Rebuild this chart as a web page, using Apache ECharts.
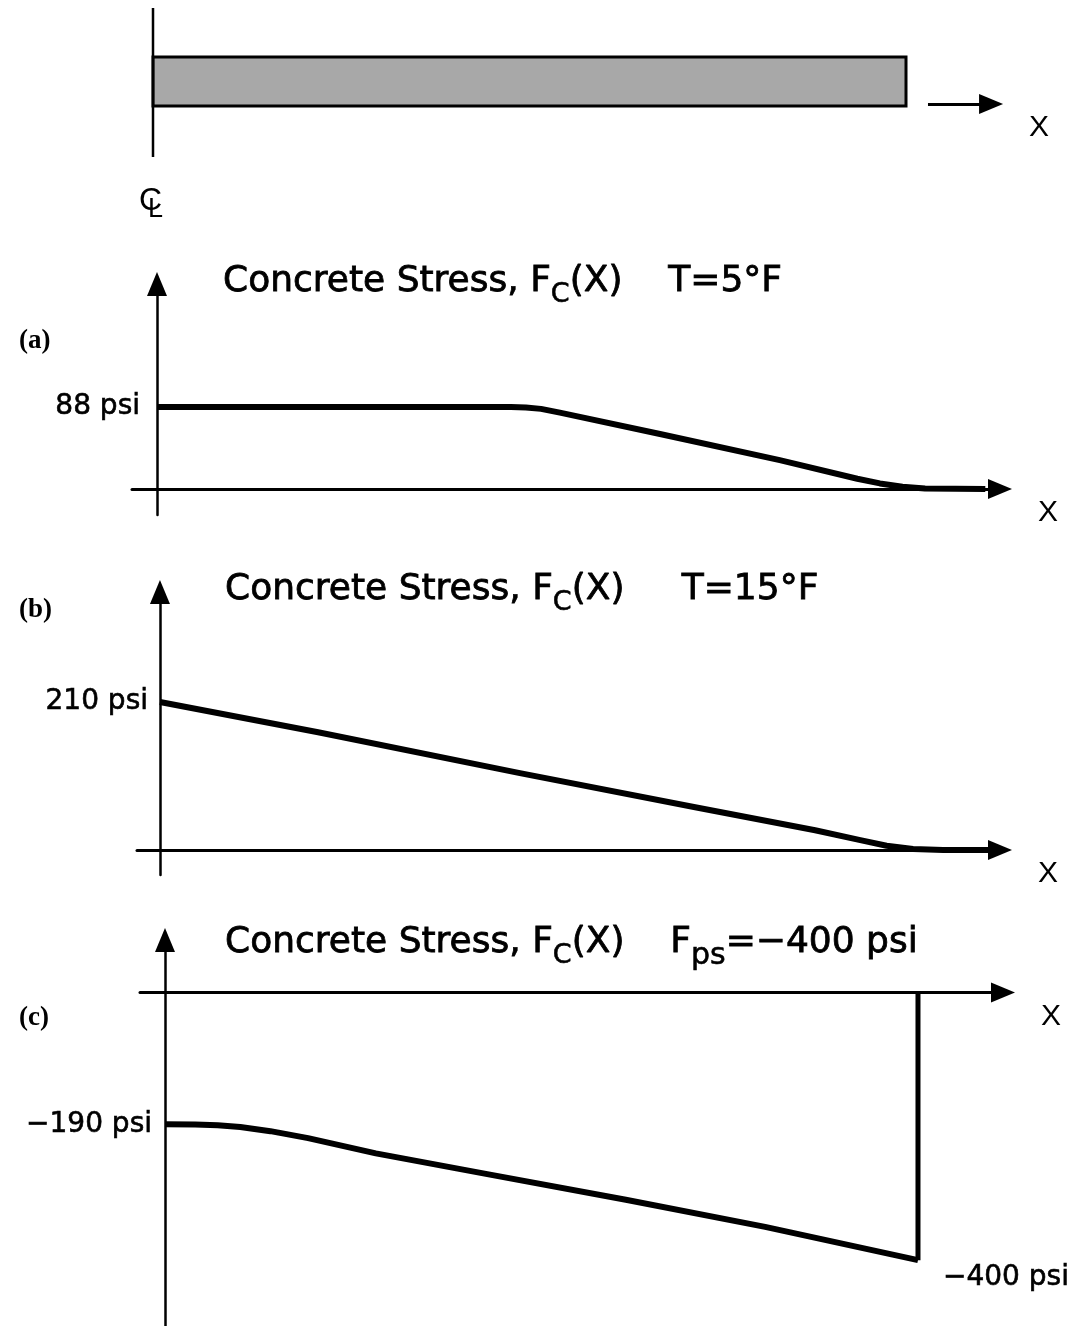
<!DOCTYPE html>
<html><head><meta charset="utf-8">
<script src="https://cdn.jsdelivr.net/npm/echarts@6/dist/echarts.min.js"></script>
<style>html,body{margin:0;padding:0;background:#fff}#c{width:1088px;height:1326px}</style>
</head><body><div id="c"></div>
<script>
// ---- data (x = distance from centre line as fraction of the half-length) ----
const xA = [0, 0.47, 0.49, 0.51, 0.535, 0.668, 0.827, 0.93, 0.96, 0.99, 1.02, 1.10];
const yA = [88, 88, 87.5, 86, 82, 59, 31, 11, 6, 2.5, 0.5, 0];
const xB = [0, 0.21, 0.478, 0.709, 0.87, 0.93, 0.965, 1.0, 1.04, 1.10];
const yB = [210, 167, 109, 61, 28, 14, 6, 1.5, 0, 0];
const xC = [0, 0.04, 0.07, 0.1, 0.14, 0.19, 0.28, 0.428, 0.612, 0.797, 1.0];
const yC = [-190, -190.3, -191.5, -194, -200, -210, -232, -262, -299, -338, -386];
const xCend = [1.0, 1.0];
const yCend = [-386, 0];
const ticksA = [88];
const ticksB = [210];
const ticksC = [-190];
const endLabelC = '−400 psi';
const titles = [
  'Concrete Stress, F{s|C}(X)    T=5°F',
  'Concrete Stress, F{s|C}(X)     T=15°F',
  'Concrete Stress, F{s|C}(X)    F{p|ps}=−400 psi'
];
const panelLabels = ['(a)', '(b)', '(c)'];

const FONT = 'DejaVu Sans';
const zip = (xs, ys) => xs.map((x, i) => [x, ys[i]]);
const ARROW = ['none', 'triangle'];
const ARROW_SIZE = [20, 24];

const grids = [
  {left: 115.35, top: 8, width: 941.25, height: 149},   // beam sketch
  {left: 132, top: 284, width: 868, height: 231},        // (a)
  {left: 137, top: 592, width: 863, height: 283},        // (b)
  {left: 140, top: 940, width: 863, height: 390}         // (c)
];
const xr = [[-0.05, 1.2], [-0.0332, 1.1195], [-0.0305, 1.1155], [-0.0332, 1.1129]];
const yr = [[0, 149], [-27.9, 220], [-35.5, 366], [-481, 75.7]];
const ticks = [null, ticksA, ticksB, ticksC];
const labelMargin = [0, -8, -11, -12];

const xAxes = grids.map((g, i) => ({
  gridIndex: i, type: 'value', min: xr[i][0], max: xr[i][1],
  show: i > 0,
  axisLine: {onZero: true, symbol: ARROW, symbolSize: ARROW_SIZE, lineStyle: {color: '#000', width: 3}},
  axisTick: {show: false}, axisLabel: {show: false}, splitLine: {show: false},
  name: i > 0 ? 'X' : '', nameLocation: 'end', nameGap: 38,
  nameTextStyle: {fontFamily: 'Liberation Sans', fontSize: 30, color: '#000', align: 'left', verticalAlign: 'top', padding: [9, 0, 0, 0]}
}));
const yAxes = grids.map((g, i) => ({
  gridIndex: i, type: 'value', min: yr[i][0], max: yr[i][1],
  show: i > 0,
  axisLine: {onZero: true, symbol: ARROW, symbolSize: ARROW_SIZE, lineStyle: {color: '#000', width: 2.5}},
  axisTick: {show: false}, splitLine: {show: false},
  axisLabel: i > 0 ? {customValues: ticks[i], formatter: v => String(v).replace('-', '−') + ' psi', fontFamily: FONT, fontSize: 28, color: '#000',
    textBorderColor: '#000', textBorderWidth: 0.6, margin: labelMargin[i]} : {show: false}
}));

const lineBase = {type: 'line', symbol: 'none', showSymbol: false, lineStyle: {color: '#000', width: 6, join: 'round', cap: 'butt'}, z: 5, silent: true, animation: false};

const series = [
  {
    type: 'line', xAxisIndex: 0, yAxisIndex: 0, symbol: 'none', silent: true, animation: false,
    data: [[0, 0], [0, 149]], lineStyle: {color: '#000', width: 2.5},
    markArea: {silent: true, itemStyle: {color: '#a8a8a8', borderColor: '#000', borderWidth: 3},
      data: [[{coord: [0, 51]}, {coord: [1, 100]}]]},
    markLine: {silent: true, symbol: ARROW, symbolSize: ARROW_SIZE, animation: false,
      lineStyle: {color: '#000', width: 3, type: 'solid'},
      label: {show: true, formatter: '\nX', position: 'end', distance: 38, fontFamily: 'Liberation Sans', fontSize: 30, lineHeight: 48, color: '#000'},
      data: [[{coord: [1.0292, 53]}, {coord: [1.113, 53]}]]}
  },
  Object.assign({}, lineBase, {xAxisIndex: 1, yAxisIndex: 1, data: zip(xA, yA)}),
  Object.assign({}, lineBase, {xAxisIndex: 2, yAxisIndex: 2, data: zip(xB, yB)}),
  Object.assign({}, lineBase, {xAxisIndex: 3, yAxisIndex: 3, data: zip(xC, yC)}),
  Object.assign({}, lineBase, {xAxisIndex: 3, yAxisIndex: 3, lineStyle: {color: '#000', width: 5}, data: zip(xCend, yCend)}),
  {type: 'scatter', xAxisIndex: 3, yAxisIndex: 3, symbolSize: 0, itemStyle: {color: '#000', opacity: 1}, silent: true, animation: false,
    data: [[xC[xC.length - 1], yC[yC.length - 1]]],
    label: {show: true, formatter: endLabelC, position: 'right', distance: 25, offset: [0, 18], fontFamily: FONT, fontSize: 28,
      color: '#000', opacity: 1, textBorderColor: '#000', textBorderWidth: 0.6}}
];

const titleTop = [255, 563, 915];
const titleLeft = [223, 225, 225];
const title = titles.map((t, i) => ({
  text: t, left: titleLeft[i], top: titleTop[i], padding: 0,
  textStyle: {fontFamily: FONT, fontSize: 36, fontWeight: 'normal', color: '#000', textBorderColor: '#000', textBorderWidth: 0.8,
    rich: {
      s: {fontFamily: FONT, fontSize: 27, padding: [26, 0, 0, 0], color: '#000', textBorderColor: '#000', textBorderWidth: 0.6},
      p: {fontFamily: FONT, fontSize: 30, padding: [26, 0, 0, 0], color: '#000', textBorderColor: '#000', textBorderWidth: 0.6}
    }}
}));

const panelY = [343, 612, 1020];
const graphic = panelLabels.map((t, i) => ({
  type: 'text', left: 19, top: panelY[i] - 15,
  style: {text: t, font: 'bold 27px "Liberation Serif"', fill: '#000'}
})).concat([
  {type: 'text', x: 139, y: 185, style: {text: 'C', font: '32px "Liberation Sans"', fill: '#000'}},
  {type: 'text', x: 148, y: 196, style: {text: 'L', font: '27px "Liberation Sans"', fill: '#000'}}
]);

const chart = echarts.init(document.getElementById('c'), null, {renderer: 'canvas'});
chart.setOption({animation: false, backgroundColor: '#fff', title, grid: grids, xAxis: xAxes, yAxis: yAxes, series, graphic});
</script></body></html>
